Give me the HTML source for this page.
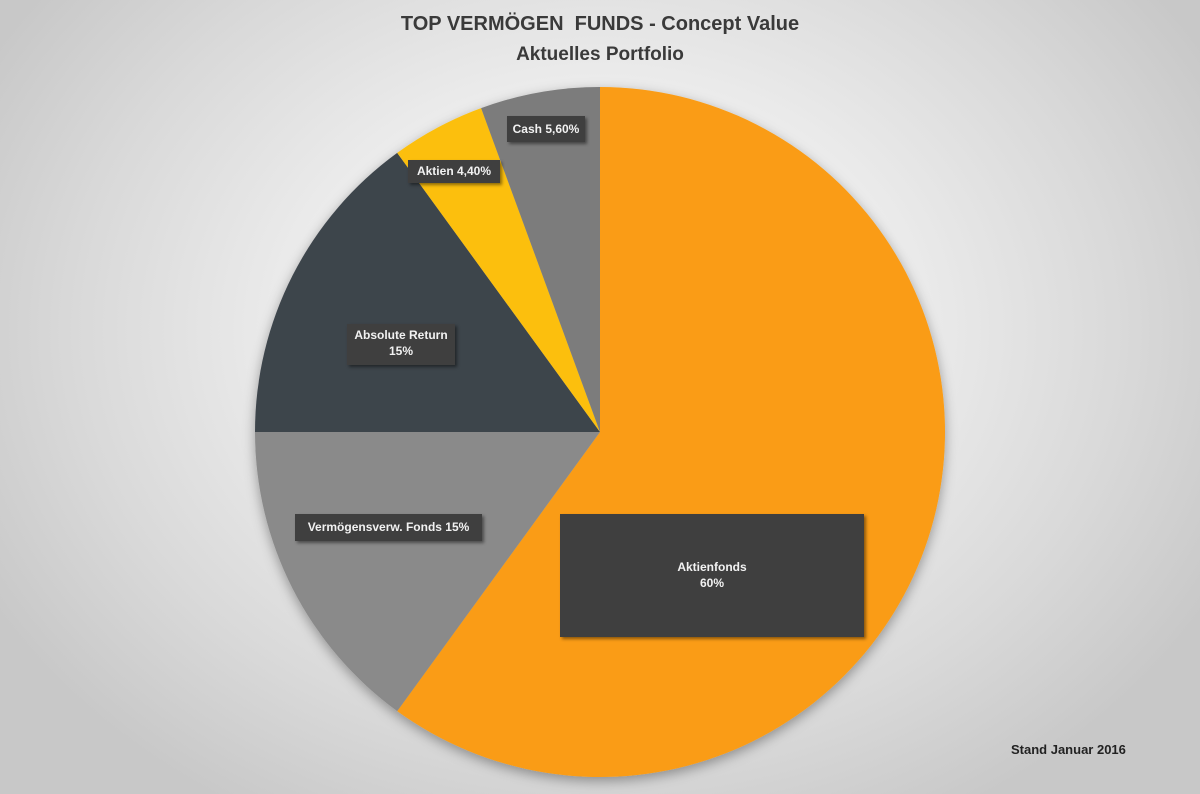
<!DOCTYPE html>
<html><head><meta charset="utf-8"><style>
html,body{margin:0;padding:0}
body{width:1200px;height:794px;overflow:hidden;position:relative;font-family:"Liberation Sans",sans-serif;
background:radial-gradient(ellipse 700px 560px at 600px 330px,#fbfbfb 0%,#f1f1f1 35%,#d9d9d9 75%,#c8c8c8 100%);}
.t{position:absolute;left:0;width:1200px;text-align:center;font-weight:bold;color:#3a3a3a;font-size:20px}
.l{position:absolute;background:#3f3f3f;color:#f2f2f2;font-weight:bold;font-size:12px;text-align:center;box-shadow:2px 2px 3px rgba(0,0,0,.45);line-height:16px}
</style></head><body>
<div class="t" style="top:13px">TOP VERMÖGEN&nbsp; FUNDS - Concept Value</div>
<div class="t" style="top:44px;font-size:19px">Aktuelles Portfolio</div>
<svg width="1200" height="794" style="position:absolute;left:0;top:0">
<defs><filter id="s" x="-10%" y="-10%" width="120%" height="120%"><feDropShadow dx="0" dy="4" stdDeviation="6" flood-color="#000" flood-opacity="0.35"/></filter></defs>
<g filter="url(#s)">
<path d="M600,432 L600,87 A345,345 0 1 1 397.2,711.1 Z" fill="#fa9c14"/>
<path d="M600,432 L397.2,711.1 A345,345 0 0 1 255,432 Z" fill="#8a8a8a"/>
<path d="M600,432 L255,432 A345,345 0 0 1 397.2,152.9 Z" fill="#3e444c"/>
<path d="M600,432 L397.2,152.9 A345,345 0 0 1 481.1,108.1 Z" fill="#fcbf0b"/>
<path d="M600,432 L481.1,108.1 A345,345 0 0 1 600,87 Z" fill="#7c7c7c"/>
</g>
</svg>
<div class="l" style="left:507px;top:116px;width:78px;height:26px;line-height:26px">Cash 5,60%</div>
<div class="l" style="left:408px;top:160px;width:92px;height:23px;line-height:23px">Aktien 4,40%</div>
<div class="l" style="left:347px;top:324px;width:108px;height:41px;padding-top:0"><div style="padding-top:3px">Absolute Return<br>15%</div></div>
<div class="l" style="left:295px;top:514px;width:187px;height:27px;line-height:27px">Vermögensverw. Fonds 15%</div>
<div class="l" style="left:560px;top:514px;width:304px;height:123px"><div style="padding-top:45px">Aktienfonds<br>60%</div></div>
<div style="position:absolute;left:1011px;top:742px;font-size:13px;font-weight:bold;color:#222">Stand Januar 2016</div>
</body></html>
